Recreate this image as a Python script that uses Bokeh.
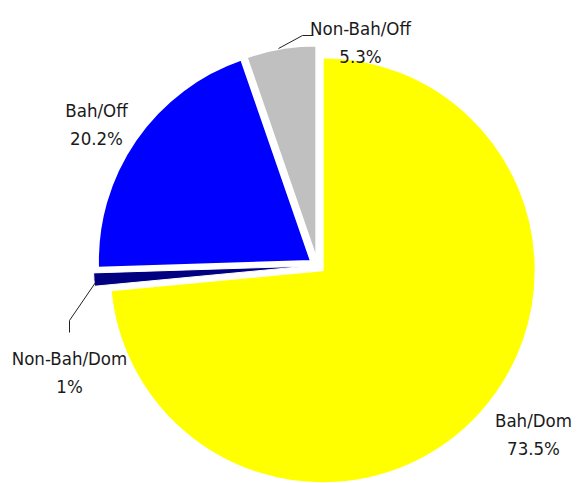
import math
from bokeh.plotting import figure
from bokeh.models import Range1d, ColumnDataSource
from bokeh.core.properties import value
from bokeh.embed import file_html
from bokeh.resources import INLINE

# ---- data ----
categories = ["Bah/Dom", "Non-Bah/Dom", "Bah/Off", "Non-Bah/Off"]
shares = [73.5, 1.0, 20.2, 5.3]
colors = ["#FFFF00", "#000080", "#0000FF", "#C0C0C0"]

# ---- layout (page pixel coordinates) ----
CX, CY = 317.0, 265.0
R = 213.0
explode = [7.0, 11.0, 8.0, 7.0]
border_widths = [2.0, 1.0, 2.0, 2.0]
name_pos = [(533, 420), (69, 358), (96, 110), (360, 28)]   # centre x, baseline y
line_gap = 27.5
leaders = [
    [(95, 282), (69, 320), (69, 332)],
    [(278, 48), (302, 35), (313, 35)],
]

W, H = 581, 483
p = figure(width=W, height=H, output_backend="svg", toolbar_location=None,
           x_range=Range1d(0, W), y_range=Range1d(-H, 0),
           x_axis_type=None, y_axis_type=None, min_border=0,
           outline_line_color=None, background_fill_color="white",
           border_fill_color="white")
p.grid.visible = False

total = sum(shares)
xs, ys, starts, ends = [], [], [], []
cum = 0.0
for s, d in zip(shares, explode):
    a0 = math.pi / 2 - 2 * math.pi * cum / total
    cum += s
    a1 = math.pi / 2 - 2 * math.pi * cum / total
    mid = (a0 + a1) / 2
    xs.append(CX + d * math.cos(mid))
    ys.append(-CY + d * math.sin(mid))
    starts.append(a0)
    ends.append(a1)

src = ColumnDataSource(dict(x=xs, y=ys, start=starts, end=ends, color=colors,
                            lw=border_widths))
p.wedge(x="x", y="y", radius=R, start_angle="start", end_angle="end",
        direction="clock", fill_color="color", line_color="white",
        line_width="lw", source=src)

for pts in leaders:
    p.line([q[0] for q in pts], [-q[1] for q in pts], line_color="#222222",
           line_width=1)

def fmt(v):
    return f"{v:g}%"

names_src = ColumnDataSource(dict(
    x=[q[0] for q in name_pos], y=[-q[1] for q in name_pos], t=categories))
vals_src = ColumnDataSource(dict(
    x=[q[0] for q in name_pos], y=[-(q[1] + line_gap) for q in name_pos],
    t=[fmt(v) for v in shares]))
for s in (names_src, vals_src):
    p.text(x="x", y="y", text="t", source=s, text_align="center",
           text_baseline="alphabetic",
           text_font=value("'DejaVu Sans Condensed', 'Liberation Sans Narrow', Roboto, sans-serif"),
           text_font_size="18.5px", text_color="#1a1a1a")

open("out.html", "w").write(file_html(p, INLINE))
